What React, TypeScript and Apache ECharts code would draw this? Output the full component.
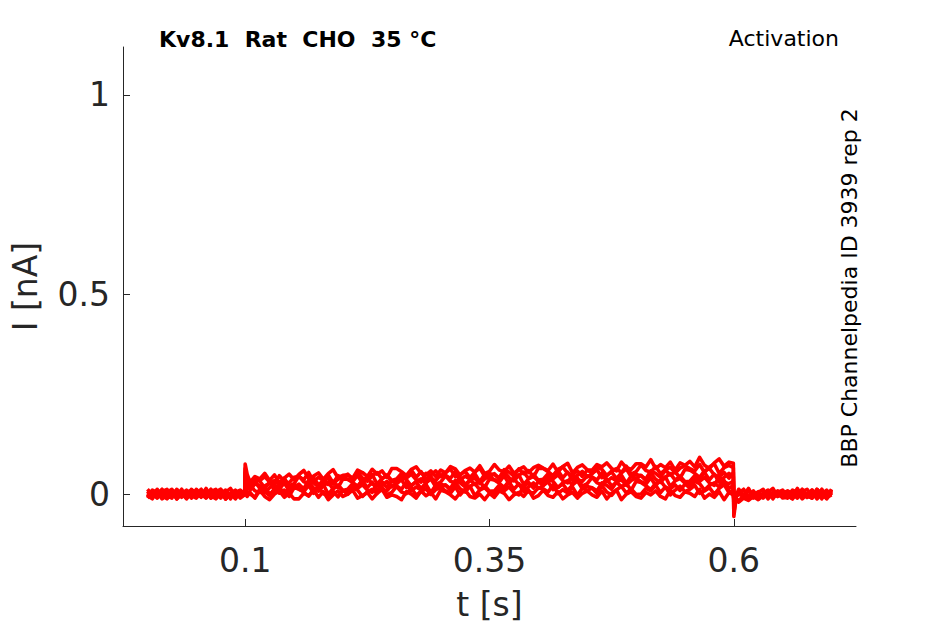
import React, { useEffect, useRef } from "react";
import * as echarts from "echarts";

// time samples [s]
const times = [
  0, 0.005, 0.01, 0.015, 0.02, 0.025, 0.03, 0.035, 0.04, 0.045,
  0.05, 0.055, 0.06, 0.065, 0.07, 0.075, 0.08, 0.085, 0.09, 0.095,
  0.0995, 0.1, 0.102,
  0.105, 0.11, 0.115, 0.12, 0.125, 0.13, 0.135, 0.14, 0.145, 0.15,
  0.155, 0.16, 0.165, 0.17, 0.175, 0.18, 0.185, 0.19, 0.195, 0.2,
  0.205, 0.21, 0.215, 0.22, 0.225, 0.23, 0.235, 0.24, 0.245, 0.25,
  0.255, 0.26, 0.265, 0.27, 0.275, 0.28, 0.285, 0.29, 0.295, 0.3,
  0.305, 0.31, 0.315, 0.32, 0.325, 0.33, 0.335, 0.34, 0.345, 0.35,
  0.355, 0.36, 0.365, 0.37, 0.375, 0.38, 0.385, 0.39, 0.395, 0.4,
  0.405, 0.41, 0.415, 0.42, 0.425, 0.43, 0.435, 0.44, 0.445, 0.45,
  0.455, 0.46, 0.465, 0.47, 0.475, 0.48, 0.485, 0.49, 0.495, 0.5,
  0.505, 0.51, 0.515, 0.52, 0.525, 0.53, 0.535, 0.54, 0.545, 0.55,
  0.555, 0.56, 0.565, 0.57, 0.575, 0.58, 0.585, 0.59, 0.595,
  0.5995, 0.6, 0.602,
  0.605, 0.61, 0.615, 0.62, 0.625, 0.63, 0.635, 0.64, 0.645, 0.65,
  0.655, 0.66, 0.665, 0.67, 0.675, 0.68, 0.685, 0.69, 0.695, 0.7,
];

// current sweeps, read in pA (plotted in nA)
const sweep1 = [
  -6, 10, 4, -12, 0, 6, -4, 12, -8, -2, 0, -6, 10, -10, 4, 12, -12, 2, 8, -4,
  2, 8, -6,
  4, -10, 10, -6, -14, 0, 8, -8, 2, -12,
  -12, 2, -4, 10, -8, 6, -14, -2, 8, -6,
  0, 10, -10, -4, 4, -12, 2, 12, -8, -2,
  -6, -14, 6, 0, -10, 8, -4, 4, -12, 10,
  6, -2, -12, 4, 10, -6, -10, 0, -14, 2,
  -8, 8, 2, -14, -2, 4, -6, 10, -10, -4,
  10, -4, -8, 6, -12, -2, 4, -10, 2, 8,
  -2, -8, 8, -12, 2, 10, -14, 0, 6, -6,
  -10, 4, -2, 8, -6, -12, 10, -4, -8, 6,
  2, -6, 12, -10, 0, -8, 6, -14, 4,
  -2, -10, 2,
  2, 12, -8, -2, 6, -10, 4, 14, -6, 0, 4, -4, 14, -8, 2, -6, 8, -12, 6, 0,
];
const sweep2 = [
  -8, 6, 0, 10, -4, -10, 12, -2, -6, 8, 6, -8, 12, -4, -12, 2, 10, -6, 4, -10,
  -2, 14, 6,
  0, -8, 12, 6, -4, 14, 2, 10, -6, 16,
  13, 5, -5, 11, 17, 1, -3, 7, -7, 9,
  0, 16, 10, -6, 6, 12, 2, 18, -2, 4,
  19, 5, 1, 15, -3, 7, 13, -1, 11, 17,
  8, 2, 18, -2, 12, 20, -4, 10, 16, 4,
  0, 14, 8, 18, 4, -2, 20, 6, 2, 16,
  13, 5, 23, 1, 11, 3, 17, -3, 15, 9,
  15, 1, 21, 5, -3, 11, 19, 3, 13, -1,
  0, 14, 8, 22, 4, 18, -2, 10, 20, 6,
  12, 22, 2, 8, 16, 0, 14, 24, 4,
  10, -14, -6,
  12, -2, -6, 8, -10, 0, 6, -8, 4, 10, -4, -12, 8, 2, -8, 10, -2, 6, -10, 12,
];
const sweep3 = [
  -10, 4, -2, 12, -6, 8, -12, 0, 10, -4, 8, 0, -10, 6, 12, -4, -8, 2, -12, 4,
  0, 24, 13,
  22, 8, 4, 18, 0, 10, 16, 2, 14, 20,
  12, 6, 22, 2, 16, 24, 0, 14, 20, 8,
  6, 20, 14, 24, 10, 4, 26, 12, 8, 22,
  20, 12, 30, 8, 18, 10, 24, 4, 22, 16,
  23, 9, 29, 13, 5, 19, 27, 11, 21, 7,
  8, 22, 16, 30, 12, 26, 6, 18, 28, 14,
  21, 31, 11, 17, 25, 9, 23, 33, 13, 19,
  16, 8, 28, 22, 12, 30, 18, 26, 10, 32,
  29, 21, 11, 27, 33, 17, 13, 23, 9, 25,
  16, 32, 26, 10, 22, 28, 18, 34, 14,
  22, -18, -6,
  4, -4, 14, -8, 2, -6, 8, -12, 6, 0, -6, 10, 4, -12, 0, 6, -4, 12, -8, -2,
];
const sweep4 = [
  -4, -12, 8, 2, -8, 10, -2, 6, -10, 12, 0, -6, 10, -10, 4, 12, -12, 2, 8, -4,
  2, 32, 19,
  10, 26, 20, 4, 16, 22, 12, 28, 8, 14,
  25, 11, 31, 15, 7, 21, 29, 13, 23, 9,
  12, 26, 20, 34, 16, 30, 10, 22, 32, 18,
  26, 36, 16, 22, 30, 14, 28, 38, 18, 24,
  22, 14, 34, 28, 18, 36, 24, 32, 16, 38,
  35, 27, 17, 33, 39, 23, 19, 29, 15, 31,
  22, 38, 32, 16, 28, 34, 24, 40, 20, 26,
  42, 28, 24, 38, 20, 30, 36, 22, 34, 40,
  31, 25, 41, 21, 35, 43, 19, 33, 39, 27,
  24, 38, 32, 42, 28, 22, 44, 30, 26,
  32, -22, -9,
  6, -8, 12, -4, -12, 2, 10, -6, 4, -10, -8, 6, 0, 10, -4, -10, 12, -2, -6, 8,
];
const sweep5 = [
  12, -2, -6, 8, -10, 0, 6, -8, 4, 10, 4, -4, 14, -8, 2, -6, 8, -12, 6, 0,
  -2, 42, 26,
  24, 34, 14, 20, 28, 12, 26, 36, 16, 22,
  22, 14, 34, 28, 18, 36, 24, 32, 16, 38,
  37, 29, 19, 35, 41, 25, 21, 31, 17, 33,
  26, 42, 36, 20, 32, 38, 28, 44, 24, 30,
  46, 32, 28, 42, 24, 34, 40, 26, 38, 44,
  36, 30, 46, 26, 40, 48, 24, 38, 44, 32,
  30, 44, 38, 48, 34, 28, 50, 36, 32, 46,
  43, 35, 53, 31, 41, 33, 47, 27, 45, 39,
  47, 33, 53, 37, 29, 43, 51, 35, 45, 31,
  32, 46, 40, 54, 36, 50, 30, 42, 52,
  43, -30, -12,
  -16, -6, -12, -2, -10, 2, 4, -8, 6, -4, -10, 4, -2, 12, -6, 8, -12, 0, 10, -4,
];
const sweep6 = [
  8, 0, -10, 6, 12, -4, -8, 2, -12, 4, 2, 12, -8, -2, 6, -10, 4, 14, -6, 0,
  1, 54, 33,
  22, 38, 32, 16, 28, 34, 24, 40, 20, 26,
  45, 31, 27, 41, 23, 33, 39, 25, 37, 43,
  37, 31, 47, 27, 41, 49, 25, 39, 45, 33,
  32, 46, 40, 50, 36, 30, 52, 38, 34, 48,
  47, 39, 57, 35, 45, 37, 51, 31, 49, 43,
  51, 37, 57, 41, 33, 47, 55, 39, 49, 35,
  37, 51, 45, 59, 41, 55, 35, 47, 57, 43,
  51, 61, 41, 47, 55, 39, 53, 63, 43, 49,
  46, 38, 58, 52, 42, 60, 48, 56, 40, 62,
  60, 52, 42, 58, 64, 48, 44, 54, 40,
  54, -40, -8,
  0, -6, 10, -10, 4, 12, -12, 2, 8, -4, -4, -12, 8, 2, -8, 10, -2, 6, -10, 12,
];
const sweep7 = [
  6, -8, 12, -4, -12, 2, 10, -6, 4, -10, 12, -2, -6, 8, -10, 0, 6, -8, 4, 10,
  0, 64, 41,
  26, 40, 34, 44, 30, 24, 46, 32, 28, 42,
  44, 36, 54, 32, 42, 34, 48, 28, 46, 40,
  50, 36, 56, 40, 32, 46, 54, 38, 48, 34,
  38, 52, 46, 60, 42, 56, 36, 48, 58, 44,
  53, 63, 43, 49, 57, 41, 55, 65, 45, 51,
  49, 41, 61, 55, 45, 63, 51, 59, 43, 65,
  64, 56, 46, 62, 68, 52, 48, 58, 44, 60,
  52, 68, 62, 46, 58, 64, 54, 70, 50, 56,
  73, 59, 55, 69, 51, 61, 67, 53, 65, 71,
  64, 58, 74, 54, 68, 76, 52, 66, 72,
  66, -48, -14,
  -18, -8, -14, -4, -12, -2, -6, 4, -2, 2, 8, 0, -10, 6, 12, -4, -8, 2, -12, 4,
];
const sweep8 = [
  0, -6, 10, -10, 4, 12, -12, 2, 8, -4, -10, 4, -2, 12, -6, 8, -12, 0, 10, -4,
  1, 75, 50,
  30, 44, 38, 52, 34, 48, 28, 40, 50, 36,
  49, 59, 39, 45, 53, 37, 51, 61, 41, 47,
  48, 40, 60, 54, 44, 62, 50, 58, 42, 64,
  64, 56, 46, 62, 68, 52, 48, 58, 44, 60,
  53, 69, 63, 47, 59, 65, 55, 71, 51, 57,
  74, 60, 56, 70, 52, 62, 68, 54, 66, 72,
  65, 59, 75, 55, 69, 77, 53, 67, 73, 61,
  60, 74, 68, 78, 64, 58, 80, 66, 62, 76,
  76, 68, 86, 64, 74, 66, 80, 60, 78, 72,
  82, 68, 92, 72, 64, 78, 88, 70, 80,
  77, -56, -16,
  -20, -10, -16, -6, -14, -4, -8, 0, -6, 4, -8, 6, 0, 10, -4, -10, 12, -2, -6, 8,
];

const sweeps = [sweep1, sweep2, sweep3, sweep4, sweep5, sweep6, sweep7, sweep8];

const xTicks = [0.1, 0.35, 0.6];
const yTicks = [0, 0.5, 1];

const titleText = "Kv8.1  Rat  CHO  35 °C";
const protocolText = "Activation";
const sourceText = "BBP Channelpedia ID 3939 rep 2";

const AXIS = "#262626";
const FONT = "DejaVu Sans";

export default function App() {
  const ref = useRef<HTMLDivElement>(null);
  useEffect(() => {
    if (!ref.current) return;
    const chart = echarts.init(ref.current, undefined, { renderer: "svg" });
    chart.setOption({
      animation: false,
      backgroundColor: "#ffffff",
      grid: { left: 123, right: 89, top: 47, bottom: 98, containLabel: false, outerBoundsMode: "none" },
      xAxis: {
        type: "value",
        min: -0.025,
        max: 0.725,
        name: "t [s]",
        nameLocation: "middle",
        nameGap: 62,
        nameMoveOverlap: false,
        nameTextStyle: { color: AXIS, fontSize: 33, fontFamily: FONT },
        axisLine: { show: true, onZero: false, lineStyle: { color: AXIS, width: 1 } },
        axisTick: { show: true, inside: true, length: 7, lineStyle: { color: AXIS }, customValues: xTicks },
        axisLabel: {
          color: AXIS,
          fontSize: 33,
          fontFamily: FONT,
          margin: 18,
          customValues: xTicks,
          formatter: (v: number) => String(v),
        },
        splitLine: { show: false },
      },
      yAxis: {
        type: "value",
        min: -0.08,
        max: 1.12,
        name: "I [nA]",
        nameLocation: "middle",
        nameGap: 81,
        nameMoveOverlap: false,
        nameTextStyle: { color: AXIS, fontSize: 33, fontFamily: FONT },
        axisLine: { show: true, onZero: false, lineStyle: { color: AXIS, width: 1 } },
        axisTick: { show: true, inside: true, length: 7, lineStyle: { color: AXIS }, customValues: yTicks },
        axisLabel: {
          color: AXIS,
          fontSize: 33,
          fontFamily: FONT,
          margin: 13,
          customValues: yTicks,
          formatter: (v: number) => String(v),
        },
        splitLine: { show: false },
      },
      series: sweeps.map((sw, k) => ({
        type: "line",
        name: "sweep " + (k + 1),
        data: times.map((t, i) => [t, sw[i] / 1000]),
        showSymbol: false,
        symbol: "none",
        lineStyle: { color: "#ff0000", width: 3.6, join: "round" },
        itemStyle: { color: "#ff0000" },
        z: 2,
      })),
      graphic: [
        {
          type: "text",
          left: 159,
          top: 28,
          style: {
            text: titleText,
            fill: "#000000",
            font: `bold 22px "${FONT}"`,
          },
        },
        {
          type: "text",
          right: 945 - 839,
          top: 27,
          style: {
            text: protocolText,
            fill: "#000000",
            font: `22px "${FONT}"`,
          },
        },
        {
          type: "text",
          x: 849,
          y: 288,
          rotation: Math.PI / 2,
          style: {
            text: sourceText,
            fill: "#000000",
            font: `22px "${FONT}"`,
            align: "center",
            verticalAlign: "middle",
          },
        },
      ],
    });
    return () => chart.dispose();
  }, []);
  return <div ref={ref} style={{ width: 945, height: 624, position: "absolute", left: 0, top: 0 }} />;
}
